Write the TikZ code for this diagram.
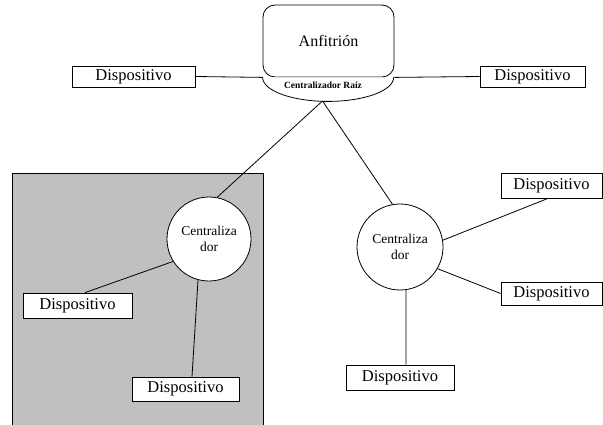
\documentclass[tikz,border=0pt]{standalone}
\usepackage{fontspec}
\setmainfont{Liberation Serif}
\begin{document}
\begin{tikzpicture}[x=1pt,y=-1pt,line width=0.8pt,
  devbox/.style={draw,fill=white,inner sep=0pt,minimum height=23pt,font=\fontsize{16.5}{18}\selectfont},
  hubnode/.style={draw,circle,fill=white,inner sep=0pt,align=center,font=\fontsize{13.5}{16.5}\selectfont},
  hostbox/.style={draw,rounded corners=12pt,minimum width=131pt,minimum height=72pt,inner sep=0pt,font=\fontsize{16}{18}\selectfont}]
\useasboundingbox (0,0) rectangle (603,425);
% shaded region
\path[draw=black,fill={rgb,255:red,192;green,192;blue,192}] (12,173) rectangle (263,430);
% host
\node[hostbox] (host) at (328.5,41) {Anfitrión};
\draw[fill=white] (host.south west) arc[start angle=180,end angle=360,x radius=65.5pt,y radius=24pt];
\node[font=\fontsize{9.5}{10}\selectfont\bfseries,inner sep=0pt] (rootlbl) at (323,85) {Centralizador Raíz};
\coordinate (root) at (322.5,101);
% top devices
\node[devbox,minimum width=123pt,minimum height=21pt] (devL) at (133.5,76.5) {Dispositivo};
\node[devbox,minimum width=105pt,minimum height=21pt] (devR) at (532.5,76.5) {Dispositivo};
\draw (devL.east) -- (host.south west);
\draw (host.south east) -- (devR.west);
% hubs
\node[hubnode,minimum size=84pt] (hubL) at (209,239) {Centraliza\\dor};
\node[hubnode,minimum size=86pt] (hubR) at (400,247) {Centraliza\\dor};
\draw (root) -- (hubL.79);
\draw (root) -- (hubR.100);
% left devices
\node[devbox,minimum width=109pt,minimum height=25pt] (d1) at (77.5,305.5) {Dispositivo};
\node[devbox,minimum width=107pt,minimum height=24pt] (d2) at (185.5,389) {Dispositivo};
\draw (hubL.212) -- ([xshift=7.5pt]d1.north);
\draw (hubL.255) -- ([xshift=6.5pt]d2.north);
% right devices
\node[devbox,minimum width=101pt,minimum height=25pt] (d3) at (551.5,185.5) {Dispositivo};
\node[devbox,minimum width=101pt,minimum height=23pt] (d4) at (551.5,293.5) {Dispositivo};
\node[devbox,minimum width=108pt,minimum height=25pt] (d5) at (400,377.5) {Dispositivo};
\draw (hubR.9) -- ([xshift=-3.5pt]d3.south);
\draw (hubR.-30) -- (d4.west);
\draw (hubR.-82) -- ([xshift=6pt]d5.north);
\end{tikzpicture}
\end{document}
